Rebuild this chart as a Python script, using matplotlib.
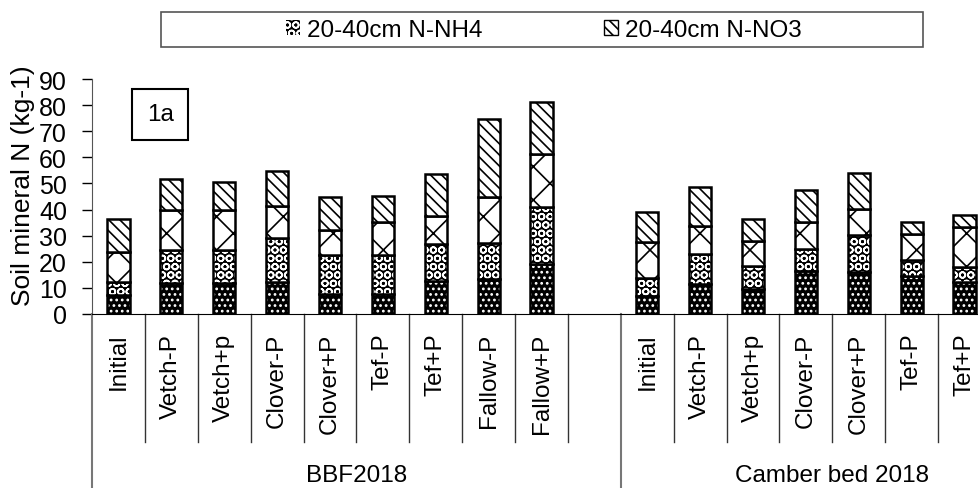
import matplotlib
matplotlib.use("Agg")
import matplotlib.pyplot as plt
from matplotlib.patches import Patch, Rectangle
import numpy as np

plt.rcParams['font.family'] = ['Liberation Sans', 'DejaVu Sans']
plt.rcParams['hatch.linewidth'] = 1.2

# categories (slot 9 is the empty gap between the two sites)
bbf_names = ['Initial', 'Vetch-P', 'Vetch+p', 'Clover-P', 'Clover+P',
             'Tef-P', 'Tef+P', 'Fallow-P', 'Fallow+P']
camber_names = ['Initial', 'Vetch-P', 'Vetch+p', 'Clover-P', 'Clover+P',
                'Tef-P', 'Tef+P']
group_names = ['BBF2018', 'Camber bed 2018']

# stacked values, BBF2018 then Camber bed 2018
nh4_0_20 = [7.3, 11.9, 12.0, 12.3, 7.7, 7.7, 12.6, 13.4, 19.2,
            6.9, 11.5, 9.6, 16.5, 16.1, 14.6, 12.3]
nh4_20_40 = [5.0, 12.6, 12.5, 16.8, 14.9, 14.9, 14.2, 13.8, 21.8,
             6.9, 11.5, 8.8, 8.4, 14.2, 6.1, 5.7]
no3_0_20 = [11.5, 15.3, 15.3, 12.3, 9.6, 12.6, 10.7, 17.6, 20.3,
            13.8, 10.7, 9.6, 10.3, 9.9, 10.0, 15.3]
no3_20_40 = [12.6, 11.9, 10.8, 13.4, 12.6, 10.0, 16.1, 29.9, 19.9,
             11.5, 15.0, 8.4, 12.3, 13.8, 4.5, 4.6]

labels = bbf_names + [''] + camber_names
slots = np.arange(len(labels))
pos = np.array([s for s, l in zip(slots, labels) if l != ''])

fig = plt.figure(figsize=(9.79, 4.89), dpi=100)
ax = fig.add_axes([92 / 979, 174 / 489, 899 / 979, 235 / 489])

series = [
    (nh4_0_20, 'black', 'white', '...'),
    (nh4_20_40, 'black', 'white', 'OO'),
    (no3_0_20, 'white', 'black', 'x'),
    (no3_20_40, 'white', 'black', '\\\\\\'),
]
w = 0.42
bottom = np.zeros(len(pos))
for vals, fc, hc, hatch in series:
    vals = np.array(vals)
    ax.bar(pos, vals, w, bottom=bottom, color=fc, edgecolor=hc,
           hatch=hatch, linewidth=0)
    ax.bar(pos, vals, w, bottom=bottom, fill=False, edgecolor='black',
           linewidth=1.8)
    bottom += vals

ax.set_xlim(-0.5, len(labels) - 0.5)
ax.set_ylim(0, 90)
ax.set_yticks(range(0, 91, 10))
ax.tick_params(axis='y', labelsize=18, length=7, width=1, pad=11)
ax.set_xticks([])
for s in ['top', 'right']:
    ax.spines[s].set_visible(False)
ax.spines['left'].set_color('#555555')
ax.spines['bottom'].set_color('black')
fig.text(23 / 979, 1 - 186 / 489, 'Soil mineral N (kg-1)', rotation=90,
         ha='center', va='center', fontsize=19)

# category axis: labels, dividers and group labels
tr = ax.get_xaxis_transform()
for s, l in zip(slots, labels):
    if l:
        ax.text(s, -0.08, l, rotation=90, ha='center', va='top',
                fontsize=17.5, transform=tr)
for b in np.arange(0.5, len(labels) - 1, 1.0):
    if b == 9.5:
        continue
    ax.plot([b, b], [0, -0.545], color='#333333', lw=1, transform=tr,
            clip_on=False)
for b in [-0.5, 9.5]:
    ax.plot([b, b], [0, -0.75], color='#777777', lw=1.5, transform=tr,
            clip_on=False)
ax.text(4.5, -0.685, group_names[0], ha='center', va='center', fontsize=17.5,
        transform=tr)
ax.text(13.5, -0.685, group_names[1], ha='center', va='center', fontsize=17.5,
        transform=tr)

# panel tag
ax.text(0.79, 76.5, '1a', fontsize=17.5, ha='center', va='center',
        bbox=dict(boxstyle='square,pad=0.6', fc='white', ec='black', lw=1.5))

# legend (only the 20-40cm entries are visible)
handles = [Patch(facecolor='black', edgecolor='white', hatch='OO', lw=0),
           Patch(facecolor='white', edgecolor='black', hatch='\\\\\\')]
fig.legend(handles, ['20-40cm N-NH4', '20-40cm N-NO3'], ncol=2,
           loc='center', bbox_to_anchor=(544 / 979, 1 - 31 / 489),
           frameon=False, fontsize=17.5, handlelength=0.55, handleheight=0.55,
           handletextpad=0.3, columnspacing=5.0, borderaxespad=0)
fig.patches.append(Rectangle((161 / 979, 1 - 48 / 489), 762 / 979, 35 / 489,
                             transform=fig.transFigure, fill=False,
                             edgecolor='#555555', lw=1.2))

fig.savefig('out.png', dpi=100)
